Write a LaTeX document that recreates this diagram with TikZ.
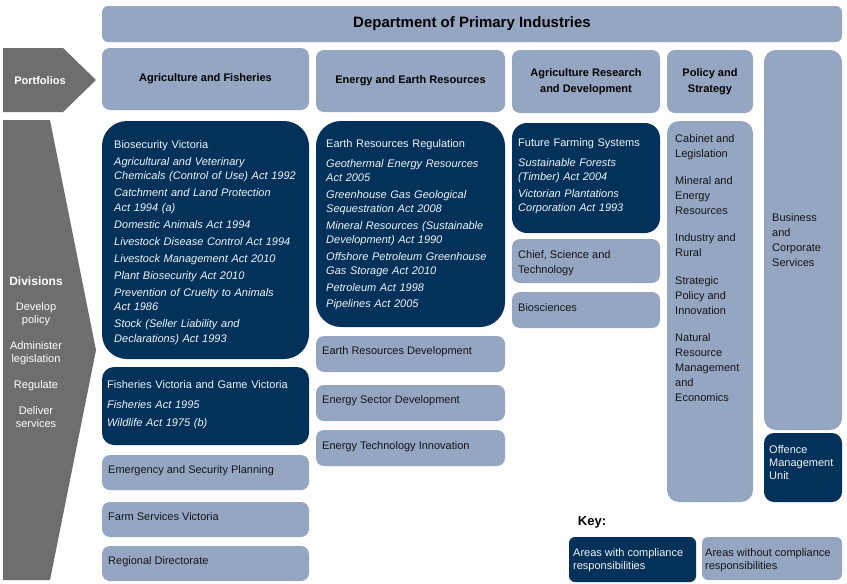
\documentclass[tikz,border=0pt]{standalone}
\usepackage{fontspec}
\setmainfont{Liberation Sans}
\usetikzlibrary{positioning}
\definecolor{dpiNavy}{HTML}{02315A}
\definecolor{dpiLight}{HTML}{95A6C3}
\definecolor{dpiGrey}{HTML}{6D6E6D}
\definecolor{dpiInk}{HTML}{151515}
\definecolor{dpiPale}{HTML}{F2F4F8}
\tikzset{
 org/.style={x=1pt,y=-1pt,font=\fontsize{11}{15}\selectfont,line join=round},
 unit/.style={rectangle,fill=dpiLight,draw=none,rounded corners=8pt,inner sep=0pt},
 comp/.style={unit,fill=dpiNavy,rounded corners=#1},
 comp/.default=12pt,
 band/.style={fill=dpiGrey,draw=none},
 head/.style={font=\fontsize{11}{16}\selectfont\bfseries,align=center,text=black,inner sep=0pt},
 side/.style={align=center,text=white,inner sep=0pt,font=\fontsize{11}{13}\selectfont},
 lbl/.style={anchor=north west,align=left,inner sep=0pt,text=dpiInk},
 lblW/.style={lbl,text=dpiPale},
 acts/.style={lblW,text width=#1,font=\fontsize{11}{14.5}\selectfont}
}
\newcommand{\orgBox}[6]{%
 \node[#1,minimum width={#4-#2},minimum height={#5-#3}] (#6) at ({(#2+#4)/2},{(#3+#5)/2}) {};}

\begin{document}
\begin{tikzpicture}[org]
 \useasboundingbox (0,0) rectangle (847,584);
 \fill[band] (3,48)--(63,48)--(96,80)--(63,112)--(3,112)--cycle;
 \fill[band] (3,120)--(50,120)--(96,350)--(50,580)--(3,580)--cycle;
 \node[side,font=\fontsize{11}{13}\selectfont\bfseries] (portLbl) at (40,81) {Portfolios};
 \node[side,font=\fontsize{12}{14}\selectfont\bfseries] (divLbl) at (36,281) {Divisions};
 \node[side,anchor=north] (divRole) at (36,302) {Develop\\policy\\[13pt]Administer\\legislation\\[13pt]Regulate\\[13pt]Deliver\\services};

 \orgBox{unit,rounded corners=6pt}{102}{6}{842}{42}{dpi}
 \node[head,font=\fontsize{15}{18}\selectfont\bfseries] (dpiLbl) at (dpi) {Department of Primary Industries};

 \orgBox{unit}{102}{48}{309}{110}{agP}
 \orgBox{unit}{316}{50}{505}{112}{eerP}
 \orgBox{unit}{512}{50}{660}{113}{ardP}
 \orgBox{unit}{667}{50}{753}{113}{psP}
 \orgBox{unit,rounded corners=12pt}{764}{50}{842}{430}{bcs}
 \node[head] (agLbl) at (agP) {Agriculture and Fisheries};
 \node[head] (eerLbl) at (eerP) {Energy and Earth Resources};
 \node[head] (ardLbl) at (ardP) {Agriculture Research\\and Development};
 \node[head] (psLbl) at (psP) {Policy and\\Strategy};

 \orgBox{comp=25pt}{102}{121}{309}{359}{bio}
 \orgBox{comp=12pt}{102}{367}{309}{445}{fish}
 \orgBox{unit}{102}{455}{309}{490}{emerg}
 \orgBox{unit}{102}{502}{309}{537}{farm}
 \orgBox{unit}{102}{546}{309}{581}{region}

 \orgBox{comp=25pt}{316}{121}{505}{327}{err}
 \orgBox{unit}{316}{336}{505}{372}{erd}
 \orgBox{unit}{316}{385}{505}{421}{esd}
 \orgBox{unit}{316}{430}{505}{466}{eti}

 \orgBox{comp=15pt}{512}{123}{660}{233}{ffs}
 \orgBox{unit}{512}{239}{660}{283}{chief}
 \orgBox{unit}{512}{292}{660}{328}{biosci}

 \orgBox{unit,rounded corners=12pt}{667}{121}{753}{502}{psDiv}
 \orgBox{comp=10pt}{764}{433}{842}{502}{omu}

 \orgBox{comp=6pt}{569}{537}{696}{582}{keyComp}
 \orgBox{unit,rounded corners=6pt}{702}{537}{842}{580}{keyNone}
 \node[head,font=\fontsize{13}{15}\selectfont\bfseries] (keyLbl) at (592,522) {Key:};

 \node[acts=190pt] (bioTxt) at (114,140) {Biosecurity Victoria\\[2.5pt]
  \itshape Agricultural and Veterinary\\Chemicals (Control of Use) Act 1992\\[2.5pt]
  Catchment and Land Protection\\Act 1994 (a)\\[2.5pt]
  Domestic Animals Act 1994\\[2.5pt]
  Livestock Disease Control Act 1994\\[2.5pt]
  Livestock Management Act 2010\\[2.5pt]
  Plant Biosecurity Act 2010\\[2.5pt]
  Prevention of Cruelty to Animals\\Act 1986\\[2.5pt]
  Stock (Seller Liability and\\Declarations) Act 1993};
 \node[acts=198pt] (fishTxt) at (107,380) {Fisheries Victoria and Game Victoria\\[5.5pt]
  \itshape Fisheries Act 1995\\[3.5pt]
  Wildlife Act 1975 (b)};
 \node[lbl] (emergTxt) at (108,465) {Emergency and Security Planning};
 \node[lbl] (farmTxt) at (108,512) {Farm Services Victoria};
 \node[lbl] (regionTxt) at (108,556) {Regional Directorate};

 \node[acts=176pt] (errTxt) at (326,139) {Earth Resources Regulation\\[5.5pt]
  \itshape Geothermal Energy Resources\\Act 2005\\[2pt]
  Greenhouse Gas Geological\\Sequestration Act 2008\\[2pt]
  Mineral Resources (Sustainable\\Development) Act 1990\\[2pt]
  Offshore Petroleum Greenhouse\\Gas Storage Act 2010\\[2pt]
  Petroleum Act 1998\\[2pt]
  Pipelines Act 2005};
 \node[lbl] (erdTxt) at (322,346) {Earth Resources Development};
 \node[lbl] (esdTxt) at (322,395) {Energy Sector Development};
 \node[lbl] (etiTxt) at (322,441) {Energy Technology Innovation};

 \node[acts=138pt] (ffsTxt) at (518,138) {Future Farming Systems\\[5.5pt]
  \itshape Sustainable Forests\\(Timber) Act 2004\\[2pt]
  Victorian Plantations\\Corporation Act 1993};
 \node[lbl] (chiefTxt) at (518,250) {Chief, Science and\\Technology};
 \node[lbl] (biosciTxt) at (518,303) {Biosciences};

 \node[lbl] (psTxt) at (675,134) {Cabinet and\\Legislation\\[12pt]
  Mineral and\\Energy\\Resources\\[12pt]
  Industry and\\Rural\\[13pt]
  Strategic\\Policy and\\Innovation\\[12pt]
  Natural\\Resource\\Management\\and\\Economics};
 \node[lbl] (bcsTxt) at (772,213) {Business\\and\\Corporate\\Services};
 \node[lblW,font=\fontsize{11}{13}\selectfont] (omuTxt) at (769,445) {Offence\\Management\\Unit};

 \node[lblW,font=\fontsize{11}{13}\selectfont] (keyCompTxt) at (573,548) {Areas with compliance\\responsibilities};
 \node[lbl,font=\fontsize{11}{13}\selectfont] (keyNoneTxt) at (705,548) {Areas without compliance\\responsibilities};
\end{tikzpicture}
\end{document}
